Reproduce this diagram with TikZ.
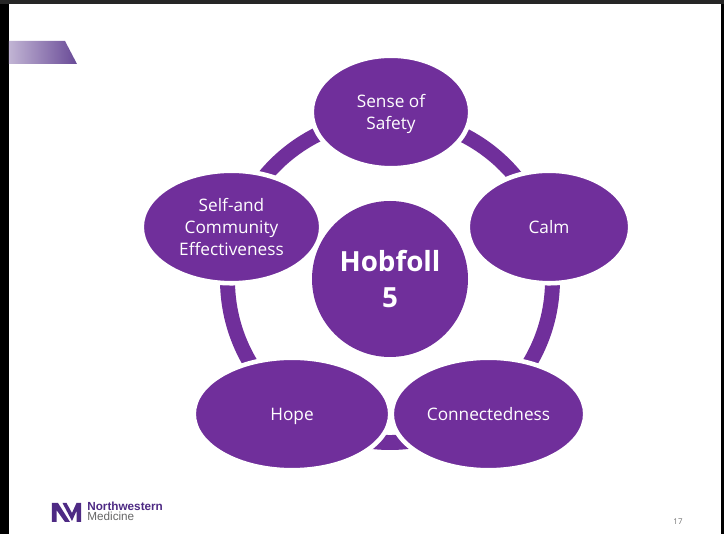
\documentclass[tikz,border=0pt]{standalone}
\usepackage{fontspec}
\setmainfont{Open Sans}
\newfontfamily\logofont{Liberation Sans}
\usetikzlibrary{shapes.geometric}

\definecolor{nodePurple}{HTML}{702F9B}
\definecolor{logoPurple}{HTML}{4E2A84}
\def \ringRadius {3.25}
\def \ringWidth {8.5pt}
\tikzset{
   petal/.style={ellipse, fill=nodePurple, draw=white, line width=2.6pt, text=white, align=center, inner sep=0pt, minimum height=2.25cm, font=\fontsize{9.8}{12.5}\selectfont},
   frame/.style={fill=black}
}

\begin{document}
\begin{tikzpicture}
   \useasboundingbox (0, 0) rectangle (14.48, 10.68);
   \fill[white] (0, 0) rectangle (14.48, 10.68);
   % window edges
   \fill[frame] (0, 0) rectangle (0.18, 10.68);
   \fill[frame] (14.42, 0) rectangle (14.48, 10.68);
   \fill[black!85] (0, 10.6) rectangle (14.48, 10.68);
   % corner tab
   \shade[left color=logoPurple!35, right color=logoPurple!85] (0.18, 9.86) -- (1.3, 9.86) -- (1.54, 9.4) -- (0.18, 9.4) -- cycle;
   % ring and nodes
   \draw[nodePurple, line width=\ringWidth] (7.8, 5.08) circle (\ringRadius);
   \node[petal, minimum width=3.17cm, text depth=0pt] (safety) at (7.82, 8.44) {Sense of\\Safety};
   \node[petal, minimum width=3.25cm] (calm) at (10.98, 6.14) {Calm};
   \node[petal, minimum width=3.87cm] (connected) at (9.77, 2.4) {Connectedness};
   \node[petal, minimum width=3.93cm, text depth=0pt] (hope) at (5.84, 2.4) {Hope};
   \node[petal, minimum width=3.59cm] (effective) at (4.63, 6.14) {Self-and\\Community\\Effectiveness};
   \node[circle, fill=nodePurple, text=white, align=center, minimum size=3.12cm, inner sep=0pt, font=\fontsize{15.8}{20.5}\selectfont\bfseries] (hub) at (7.8, 5.1) {Hobfoll\\5};
   % footer
   \fill[logoPurple] (1.04, 0.24) -- (1.04, 0.62) -- (1.16, 0.62) -- (1.4, 0.24) -- (1.3, 0.24) -- (1.13, 0.48) -- (1.13, 0.24) -- cycle;
   \fill[logoPurple] (1.25, 0.62) -- (1.33, 0.62) -- (1.44, 0.42) -- (1.53, 0.62) -- (1.62, 0.62) -- (1.62, 0.24) -- (1.53, 0.24) -- (1.53, 0.46) -- (1.44, 0.26) -- cycle;
   \node[anchor=base west, inner sep=0pt, text=logoPurple, font=\logofont\fontsize{6.67}{8}\selectfont\bfseries] (brand) at (1.74, 0.46) {Northwestern};
   \node[anchor=base west, inner sep=0pt, text=black!60, font=\logofont\fontsize{6.67}{8}\selectfont] (medicine) at (1.74, 0.26) {Medicine};
   \node[inner sep=0pt, text=black!55, font=\fontsize{4.5}{5}\selectfont] (pagenum) at (13.56, 0.24) {17};
\end{tikzpicture}
\end{document}
